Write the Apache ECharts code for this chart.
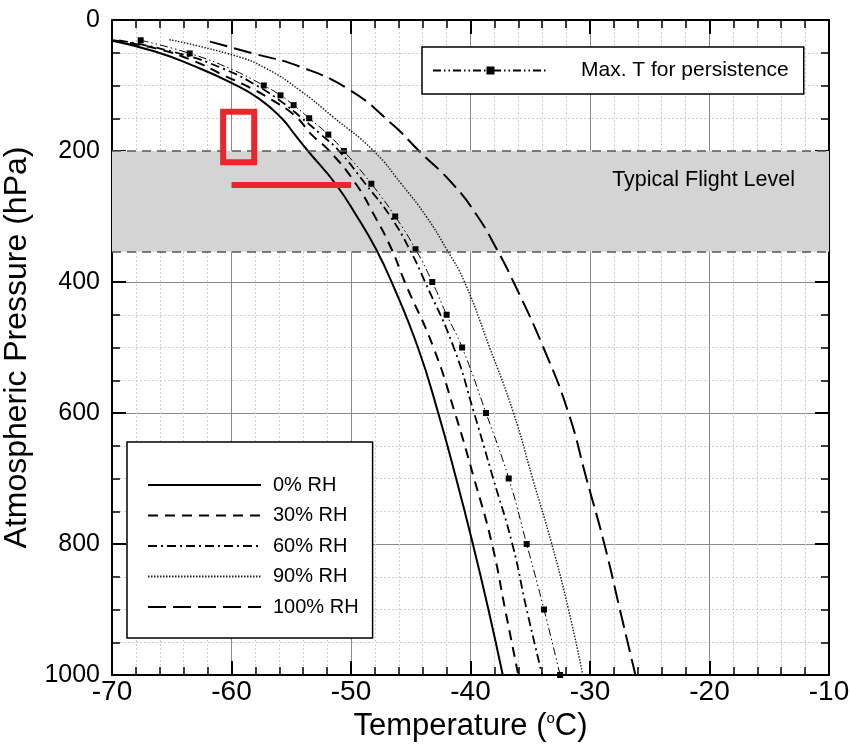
<!DOCTYPE html>
<html><head><meta charset="utf-8">
<script src="https://cdn.jsdelivr.net/npm/echarts@6/dist/echarts.min.js"></script>
<style>html,body{margin:0;padding:0;background:#fff}#c{width:851px;height:747px}</style>
</head><body><div id="c"></div>
<script>
// ---- data (Temperature °C, Pressure hPa) ----
const rh0 = [[-70.4,30],[-66.4,48],[-62.9,72],[-60.0,96],[-57.7,120],[-55.8,150],[-54.7,175],[-53.6,200],[-51.3,250],[-49.5,300],[-47.9,350],[-46.6,400],[-44.4,500],[-42.7,600],[-41.2,700],[-39.8,800],[-38.5,900],[-37.3,1000]];
const rh30 = [[-69.9,31],[-66.0,45],[-63.1,63],[-60.7,84],[-58.7,101],[-56.8,120],[-54.7,146],[-53.3,175],[-51.8,200],[-49.6,250],[-48.0,300],[-46.6,350],[-45.5,400],[-43.1,500],[-41.3,600],[-39.7,700],[-38.2,800],[-37.1,900],[-36.0,1000]];
const rh60 = [[-69.4,31],[-64.6,50],[-60.6,75],[-57.9,100],[-55.8,125],[-54.1,150],[-52.5,175],[-51.0,200],[-48.8,250],[-46.7,300],[-45.1,350],[-43.8,400],[-41.4,500],[-39.7,600],[-38.1,700],[-36.5,800],[-35.3,900],[-34.0,1000]];
const rh90 = [[-65.2,30],[-59.8,54],[-57.1,74],[-54.3,107],[-51.5,148],[-48.1,200],[-45.8,250],[-43.7,300],[-42.0,350],[-40.5,400],[-38.4,500],[-36.4,600],[-34.8,700],[-33.2,800],[-31.8,900],[-30.6,1000]];
const rh100 = [[-61.8,33],[-58.2,51],[-54.3,71],[-50.1,107],[-46.5,160],[-44.3,200],[-41.5,250],[-39.4,300],[-37.8,350],[-36.4,400],[-33.9,500],[-31.8,600],[-30.3,700],[-28.8,800],[-27.5,900],[-26.2,1000]];
const maxT = [[-67.6,31],[-63.5,51],[-59.9,76],[-57.3,100],[-55.9,115],[-54.8,130],[-53.5,150],[-51.9,175],[-50.6,200],[-48.3,250],[-46.3,300],[-44.6,350],[-43.2,400],[-42.0,450],[-40.7,500],[-38.7,600],[-36.8,700],[-35.3,800],[-33.85,900],[-32.5,1000]];
const maxTMarked = [1,1,0,1,1,1,1,1,1,1,1,1,1,1,1,1,1,1,1,1];
const flightBand = [200, 354];
const redLine = [[-60,252],[-50,252]];
const redBox = [[-60.7,140],[-58.1,140],[-58.1,217],[-60.7,217],[-60.7,140]];
const rhNames = ['0% RH','30% RH','60% RH','90% RH','100% RH'];
const maxName = 'Max. T for persistence';

const FONT = 'Liberation Sans, Arial, Helvetica, sans-serif';
const chart = echarts.init(document.getElementById('c'), null, {renderer:'canvas'});

function axisBase(pos, showLabel){
  return {
    type:'value', position:pos,
    axisLine:{show:true, onZero:false, lineStyle:{color:'#000', width:2}},
    axisTick:{show:true, inside:true, length:14, lineStyle:{color:'#000', width:2}},
    minorTick:{show:true, length:8, lineStyle:{color:'#000', width:1.5}},
    axisLabel:{show:showLabel, color:'#000', fontFamily:FONT, formatter:(v)=>String(v)},
    splitLine:{show:showLabel, lineStyle:{color:'#8a8a8a', width:1}},
    minorSplitLine:{show:showLabel, lineStyle:{color:'#cfcfcf', width:1, type:[2,2]}}
  };
}
const xb = axisBase('bottom', true);
Object.assign(xb, {min:-70, max:-10, interval:10,
  name:'Temperature ({s|o}C)', nameLocation:'middle', nameGap:27,
  nameTextStyle:{fontSize:31, color:'#000', fontFamily:FONT, rich:{s:{fontSize:15, verticalAlign:'top', color:'#000', fontFamily:FONT}}}});
xb.minorTick.splitNumber = 5;
xb.axisLabel.fontSize = 28; xb.axisLabel.margin = 3;
const xt = axisBase('top', false);
Object.assign(xt, {min:-70, max:-10, interval:10});
xt.minorTick.splitNumber = 5;

const yl = axisBase('left', true);
Object.assign(yl, {min:0, max:1000, interval:200, inverse:true,
  name:'Atmospheric Pressure (hPa)', nameLocation:'middle', nameGap:67,
  nameTextStyle:{fontSize:32, color:'#000', fontFamily:FONT}});
yl.minorTick.splitNumber = 4;
yl.axisLabel.fontSize = 25; yl.axisLabel.margin = 12;
const yr = axisBase('right', false);
Object.assign(yr, {min:0, max:1000, interval:200, inverse:true});
yr.minorTick.splitNumber = 4;

function curve(name, data, lineStyle){
  return {name, type:'line', data, symbol:'none', smooth:0.5,
    lineStyle:Object.assign({color:'#000'}, lineStyle), itemStyle:{color:'#000'},
    emphasis:{disabled:true}, z:3};
}

const option = {
  animation:false,
  textStyle:{fontFamily:FONT},
  grid:{left:112, right:22, top:20, bottom:72, containLabel:false, outerBoundsMode:'none'},
  xAxis:[xb, xt],
  yAxis:[yl, yr],
  legend:[
    {data:[maxName], left:422, top:47, orient:'vertical', itemWidth:115, itemHeight:10,
     padding:[13,15,13,10], backgroundColor:'#fff', borderColor:'#000', borderWidth:1.5,
     selectedMode:false, textStyle:{fontSize:21, color:'#000', padding:[0,0,0,28], fontFamily:FONT}},
    {data:rhNames, left:127, top:442, orient:'vertical', itemWidth:113, itemHeight:14, itemGap:10.5,
     padding:[33,14,21,20], backgroundColor:'#fff', borderColor:'#000', borderWidth:1.5,
     itemStyle:{opacity:0},
     selectedMode:false, textStyle:{fontSize:20, lineHeight:20, color:'#000', padding:[0,0,0,7], fontFamily:FONT}}
  ],
  series:[
    {name:'band', type:'line', data:[], silent:true, z:1,
     markArea:{silent:true, itemStyle:{color:'#d4d4d4'},
       label:{show:true, position:'insideTopRight', formatter:'Typical Flight Level', offset:[-29,13],
              fontSize:21.5, color:'#000', fontFamily:FONT},
       data:[[{yAxis:flightBand[0]},{yAxis:flightBand[1]}]]},
     markLine:{silent:true, symbol:['none','none'], label:{show:false},
       lineStyle:{color:'#555', type:[9,6], width:1.5},
       data:[{yAxis:flightBand[0]},{yAxis:flightBand[1]}]}},
    curve(rhNames[0], rh0, {width:2, type:'solid'}),
    curve(rhNames[1], rh30, {width:2, type:[10,7]}),
    curve(rhNames[2], rh60, {width:1.8, type:[9,4,2,4]}),
    curve(rhNames[3], rh90, {width:1.5, type:[1.5,1.5], color:'#222'}),
    curve(rhNames[4], rh100, {width:2, type:[18,7]}),
    Object.assign(curve(maxName, maxT.map((p,i)=>({value:p, symbol: maxTMarked[i] ? 'rect' : 'none'})),
        {width:1, type:[8,3,1.5,3,1.5,3]}), {symbol:'rect', symbolSize:6, showSymbol:true}),
    {name:'redLine', type:'line', data:redLine, symbol:'none', silent:true, z:6,
     lineStyle:{color:'#e8262c', width:6, cap:'butt'}},
    {name:'redBox', type:'line', data:redBox, symbol:'none', silent:true, z:6,
     lineStyle:{color:'#e8262c', width:6, cap:'square', join:'miter'}}
  ]
};
chart.setOption(option);
</script></body></html>
